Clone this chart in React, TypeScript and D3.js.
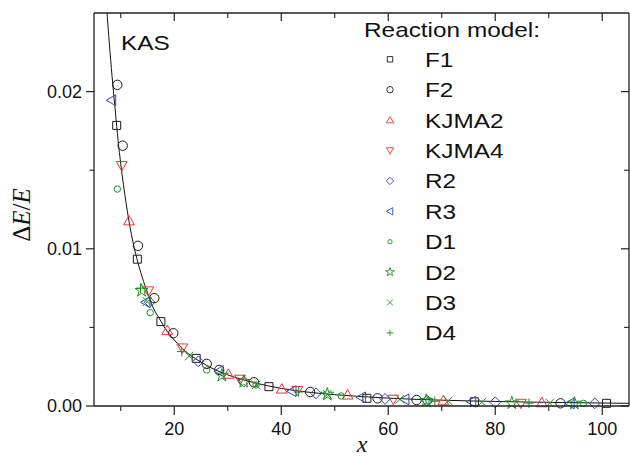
import React from "react";
import * as d3 from "d3";

// ---------- data ----------
const curveX = [7.2, 7.5, 8, 8.5, 9, 9.5, 10, 11, 12, 13, 14, 15, 16, 17.5, 18, 20, 22, 24, 26, 28, 30, 35, 40, 45, 50, 55, 60, 70, 80, 90, 100, 105];
const curveY = [0.0262, 0.0247, 0.0225, 0.0205, 0.0187, 0.0169, 0.0154, 0.0129, 0.0109, 0.0094, 0.0082, 0.0072, 0.0063, 0.0054, 0.0051, 0.0042, 0.0035, 0.003, 0.0026, 0.00225, 0.00198, 0.00148, 0.00112, 0.00088, 0.00072, 0.0006, 0.0005, 0.00037, 0.00029, 0.00023, 0.00019, 0.00017];

const f1X = [9.24, 13.1, 17.5, 24.1, 37.7, 56.0, 76.1, 100.8];
const f1Y = [0.01785, 0.00934, 0.00537, 0.00303, 0.00123, 0.00049, 0.00027, 0.00017];
const f2X = [9.36, 10.36, 13.22, 16.27, 19.82, 26.07, 28.4, 34.9, 45.4, 58.0, 65.3, 92.2];
const f2Y = [0.02043, 0.01656, 0.01019, 0.00686, 0.00463, 0.00268, 0.00229, 0.00151, 0.00089, 0.00049, 0.00038, 0.00017];
const kjma2X = [11.54, 18.7, 30.1, 40.1, 52.4, 70.3, 88.7];
const kjma2Y = [0.01178, 0.0048, 0.00202, 0.00108, 0.0007, 0.00034, 0.00021];
const kjma4X = [10.18, 15.15, 21.5, 32.3, 43.0, 60.95, 84.8];
const kjma4Y = [0.01529, 0.00732, 0.00369, 0.0017, 0.00098, 0.00043, 0.00017];
const r2X = [15.4, 24.5, 33.0, 46.5, 59.4, 67.3, 80.0, 98.6];
const r2Y = [0.0066, 0.00284, 0.00155, 0.00081, 0.00045, 0.00034, 0.00024, 0.00017];
const r3X = [8.3, 14.7, 28.4, 42.0, 55.0, 63.1, 75.6, 94.0];
const r3Y = [0.01945, 0.0066, 0.00222, 0.00094, 0.00055, 0.00042, 0.00027, 0.00017];
const d1X = [9.36, 15.5, 26.07, 35.3, 51.2, 67.6, 96.5];
const d1Y = [0.0138, 0.00594, 0.00229, 0.00134, 0.00064, 0.00034, 0.00017];
const d2X = [13.9, 28.9, 33.0, 48.6, 67.1, 83.1, 94.8];
const d2Y = [0.00734, 0.00195, 0.00155, 0.00074, 0.00034, 0.00019, 0.00017];
const d3X = [14.96, 22.8, 35.3, 48.6, 62.2, 71.2, 77.5, 90.2];
const d3Y = [0.00664, 0.00318, 0.00134, 0.00074, 0.00043, 0.00032, 0.00024, 0.00019];
const d4X = [13.7, 21.4, 43.2, 68.7, 86.3];
const d4Y = [0.0075, 0.00346, 0.00089, 0.0003, 0.00018];

const seriesNames = ["F1", "F2", "KJMA2", "KJMA4", "R2", "R3", "D1", "D2", "D3", "D4"];

const xMajorTicks = [20, 40, 60, 80, 100];
const xMinorTicks = [10, 30, 50, 70, 90];
const yMajorTicks = [0, 0.01, 0.02];
const yMinorTicks = [0.005, 0.015];
const yTickLabels = ["0.00", "0.01", "0.02"];

// ---------- styling ----------
const BLACK = "#1a1a1a";
const RED = "#ee3535";
const BLUE = "#3046c0";
const GREEN = "#1c961c";

type Shape = "square" | "circle" | "up" | "down" | "diamond" | "left" | "dot" | "star" | "x" | "plus";

const seriesDefs: { name: string; xs: number[]; ys: number[]; shape: Shape; color: string }[] = [
  { name: seriesNames[0], xs: f1X, ys: f1Y, shape: "square", color: BLACK },
  { name: seriesNames[1], xs: f2X, ys: f2Y, shape: "circle", color: BLACK },
  { name: seriesNames[2], xs: kjma2X, ys: kjma2Y, shape: "up", color: RED },
  { name: seriesNames[3], xs: kjma4X, ys: kjma4Y, shape: "down", color: RED },
  { name: seriesNames[4], xs: r2X, ys: r2Y, shape: "diamond", color: BLUE },
  { name: seriesNames[5], xs: r3X, ys: r3Y, shape: "left", color: BLUE },
  { name: seriesNames[6], xs: d1X, ys: d1Y, shape: "dot", color: GREEN },
  { name: seriesNames[7], xs: d2X, ys: d2Y, shape: "star", color: GREEN },
  { name: seriesNames[8], xs: d3X, ys: d3Y, shape: "x", color: GREEN },
  { name: seriesNames[9], xs: d4X, ys: d4Y, shape: "plus", color: GREEN },
];

function shapePath(shape: Shape, s: number): string {
  switch (shape) {
    case "square": {
      const r = 4 * s;
      return `M${-r},${-r}h${2 * r}v${2 * r}h${-2 * r}Z`;
    }
    case "up": {
      const r = 5.4 * s;
      return `M0,${-r}L${r},${r * 0.75}L${-r},${r * 0.75}Z`;
    }
    case "down": {
      const r = 5.4 * s;
      return `M0,${r}L${r},${-r * 0.75}L${-r},${-r * 0.75}Z`;
    }
    case "left": {
      const r = 5.4 * s;
      return `M${-r},0L${r * 0.75},${-r}L${r * 0.75},${r}Z`;
    }
    case "diamond": {
      const r = 5.4 * s;
      return `M0,${-r}L${r},0L0,${r}L${-r},0Z`;
    }
    case "star": {
      return d3.symbol().type(d3.symbolStar).size(52 * s * s)() as string;
    }
    case "x": {
      const r = 4.3 * s;
      return `M${-r},${-r}L${r},${r}M${-r},${r}L${r},${-r}`;
    }
    case "plus": {
      const r = 4.8 * s;
      return `M${-r},0L${r},0M0,${-r}L0,${r}`;
    }
    default:
      return "";
  }
}

function Marker({ shape, color, x, y, s }: { shape: Shape; color: string; x: number; y: number; s: number }) {
  const sw = s < 1 ? 0.9 : 1;
  if (shape === "circle") {
    return <circle cx={x} cy={y} r={4.7 * s} fill="none" stroke={color} strokeWidth={sw} />;
  }
  if (shape === "dot") {
    return <circle cx={x} cy={y} r={3.2 * s} fill="none" stroke={color} strokeWidth={sw} />;
  }
  return <path d={shapePath(shape, s)} transform={`translate(${x},${y})`} fill="none" stroke={color} strokeWidth={sw} />;
}

export default function App() {
  const W = 630;
  const H = 459;
  const left = 94;
  const right = 629;
  const top = 13;
  const bottom = 406;

  const x = d3.scaleLinear().domain([5, 105]).range([left, right]);
  const y = d3.scaleLinear().domain([0, 0.025]).range([bottom, top]);

  const curvePts: [number, number][] = curveX.map((v, i) => [v, curveY[i]]);
  const line = d3
    .line<[number, number]>()
    .x((d) => x(d[0]))
    .y((d) => y(d[1]))
    .curve(d3.curveMonotoneX);

  const font = "'Liberation Sans', Arial, Helvetica, sans-serif";
  const serif = "'Liberation Serif', 'Times New Roman', serif";
  const axisColor = "#222";
  const stretch = 1.16;

  const legendX = 390;
  const legendY0 = 59.3;
  const legendDy = 30.4;

  const StretchText = ({ tx, ty, children, size }: { tx: number; ty: number; children: React.ReactNode; size: number }) => (
    <text transform={`translate(${tx},${ty}) scale(${stretch},1)`} fontFamily={font} fontSize={size} fill="#111">
      {children}
    </text>
  );

  return (
    <svg width={W} height={H} style={{ position: "absolute", left: 0, top: 0, display: "block", background: "#fff" }}>
      <defs>
        <clipPath id="plotClip">
          <rect x={left} y={top} width={right - left} height={bottom - top} />
        </clipPath>
      </defs>
      <rect x={0} y={0} width={W} height={H} fill="#fff" />

      {/* curve */}
      <path d={line(curvePts) as string} fill="none" stroke="#111" strokeWidth={1} clipPath="url(#plotClip)" />

      {/* markers */}
      {seriesDefs.map((sd) =>
        sd.xs.map((xv, i) => (
          <Marker key={sd.name + i} shape={sd.shape} color={sd.color} x={x(xv)} y={y(sd.ys[i])} s={1} />
        ))
      )}

      {/* frame */}
      <line x1={left} x2={right} y1={bottom} y2={bottom} stroke={axisColor} strokeWidth={1.3} />
      <line x1={left} x2={right} y1={top} y2={top} stroke={axisColor} strokeWidth={1.3} />
      <line x1={left} x2={left} y1={top} y2={bottom} stroke={axisColor} strokeWidth={1.3} />
      <line x1={right} x2={right} y1={top} y2={bottom} stroke={axisColor} strokeWidth={1.3} />

      {/* x ticks */}
      {xMajorTicks.map((t) => (
        <g key={"xM" + t}>
          <line x1={x(t)} x2={x(t)} y1={bottom} y2={bottom + 9} stroke={axisColor} strokeWidth={1.2} />
          <line x1={x(t)} x2={x(t)} y1={top} y2={top + 8} stroke={axisColor} strokeWidth={1.2} />
          <text x={x(t)} y={435} textAnchor="middle" fontFamily={font} fontSize={18} fill="#111">
            {t}
          </text>
        </g>
      ))}
      {xMinorTicks.map((t) => (
        <g key={"xm" + t}>
          <line x1={x(t)} x2={x(t)} y1={bottom} y2={bottom + 5} stroke={axisColor} strokeWidth={1.1} />
          <line x1={x(t)} x2={x(t)} y1={top} y2={top + 5} stroke={axisColor} strokeWidth={1.1} />
        </g>
      ))}

      {/* y ticks */}
      {yMajorTicks.map((t, i) => (
        <g key={"yM" + t}>
          <line x1={left - 8} x2={left} y1={y(t)} y2={y(t)} stroke={axisColor} strokeWidth={1.2} />
          <line x1={right - 8} x2={right} y1={y(t)} y2={y(t)} stroke={axisColor} strokeWidth={1.2} />
          <text x={left - 12} y={y(t) + 6.3} textAnchor="end" fontFamily={font} fontSize={18} fill="#111">
            {yTickLabels[i]}
          </text>
        </g>
      ))}
      {yMinorTicks.map((t) => (
        <g key={"ym" + t}>
          <line x1={left - 4.5} x2={left} y1={y(t)} y2={y(t)} stroke={axisColor} strokeWidth={1.1} />
          <line x1={right - 5} x2={right} y1={y(t)} y2={y(t)} stroke={axisColor} strokeWidth={1.1} />
        </g>
      ))}

      {/* axis titles */}
      <text x={362} y={452} textAnchor="middle" fontFamily={serif} fontStyle="italic" fontSize={24} fill="#111">
        x
      </text>
      <text
        transform={`translate(30,215) rotate(-90)`}
        textAnchor="middle"
        fontFamily={serif}
        fontSize={25}
        fill="#111"
      >
        <tspan>Δ</tspan>
        <tspan fontStyle="italic">E</tspan>
        <tspan>/</tspan>
        <tspan fontStyle="italic">E</tspan>
      </text>

      {/* KAS label */}
      <StretchText tx={121} ty={50} size={21}>
        KAS
      </StretchText>

      {/* legend */}
      <StretchText tx={364} ty={37} size={21}>
        Reaction model:
      </StretchText>
      {seriesDefs.map((sd, i) => {
        const cy = legendY0 + i * legendDy;
        return (
          <g key={"lg" + sd.name}>
            <Marker shape={sd.shape} color={sd.color} x={legendX} y={cy} s={0.68} />
            <StretchText tx={425} ty={cy + 7.5} size={21}>
              {sd.name}
            </StretchText>
          </g>
        );
      })}
    </svg>
  );
}
